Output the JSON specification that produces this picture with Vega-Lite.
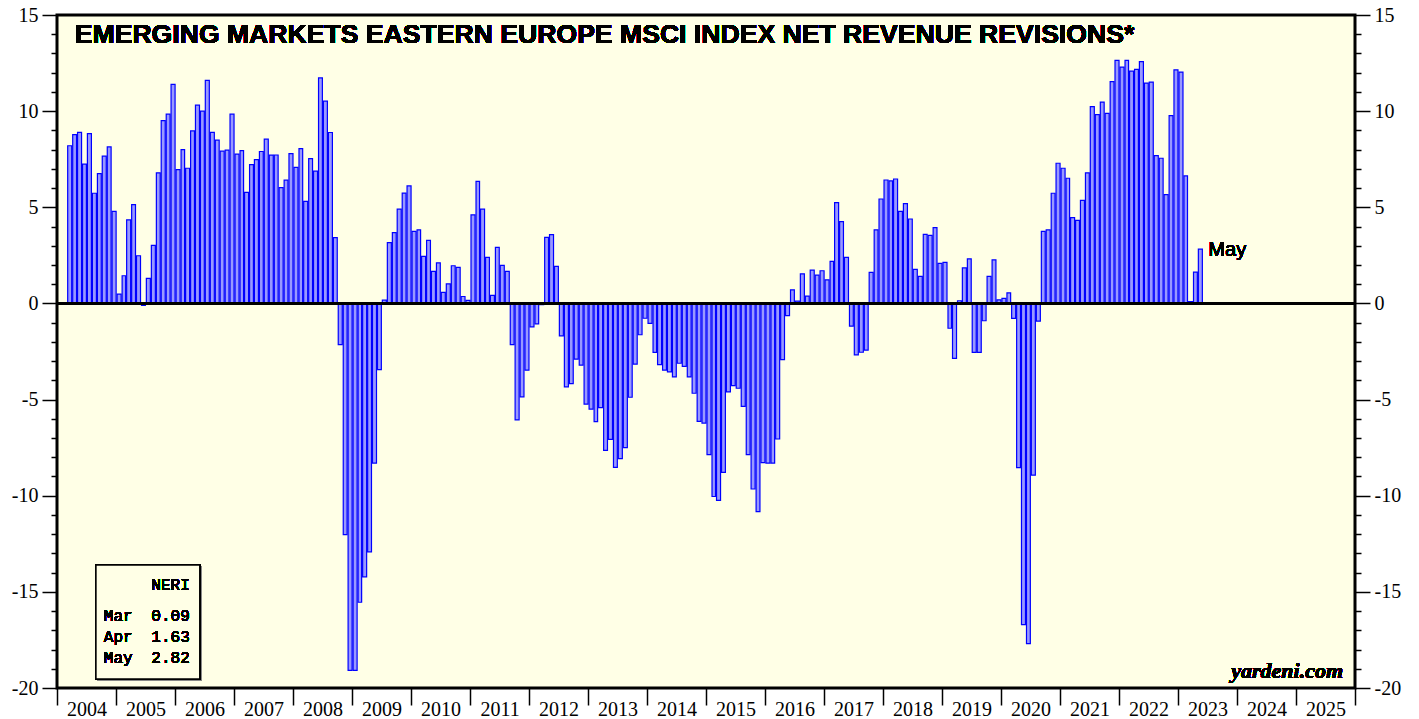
{
  "$schema": "https://vega.github.io/schema/vega-lite/v6.json",
  "width": 1298,
  "height": 673,
  "autosize": {"type": "none"},
  "padding": {"left": 57, "top": 15, "right": 64, "bottom": 31},
  "background": "white",
  "config": {
    "view": {"fill": "#ffffe6", "stroke": "black", "strokeWidth": 3},
    "axis": {"labelFont": "Liberation Serif", "labelFontSize": 20, "labelColor": "black", "tickColor": "black", "tickWidth": 1.5, "grid": false, "domain": false, "title": null},
    "text": {"fillOpacity": 0.99, "fontWeight": "normal"}
  },
  "data": {
    "values": [
      {"d":"2004-03","v":8.2},{"d":"2004-04","v":8.78},{"d":"2004-05","v":8.9},{"d":"2004-06","v":7.24},{"d":"2004-07","v":8.83},{"d":"2004-08","v":5.73},{"d":"2004-09","v":6.75},{"d":"2004-10","v":7.66},{"d":"2004-11","v":8.14},{"d":"2004-12","v":4.79},
      {"d":"2005-01","v":0.48},{"d":"2005-02","v":1.44},{"d":"2005-03","v":4.35},{"d":"2005-04","v":5.14},{"d":"2005-05","v":2.48},{"d":"2005-06","v":-0.1},{"d":"2005-07","v":1.3},{"d":"2005-08","v":3.02},{"d":"2005-09","v":6.79},{"d":"2005-10","v":9.51},{"d":"2005-11","v":9.84},{"d":"2005-12","v":11.39},
      {"d":"2006-01","v":6.96},{"d":"2006-02","v":8.0},{"d":"2006-03","v":7.03},{"d":"2006-04","v":8.97},{"d":"2006-05","v":10.31},{"d":"2006-06","v":10.0},{"d":"2006-07","v":11.6},{"d":"2006-08","v":8.9},{"d":"2006-09","v":8.49},{"d":"2006-10","v":7.92},{"d":"2006-11","v":7.97},{"d":"2006-12","v":9.84},
      {"d":"2007-01","v":7.76},{"d":"2007-02","v":7.95},{"d":"2007-03","v":5.78},{"d":"2007-04","v":7.22},{"d":"2007-05","v":7.48},{"d":"2007-06","v":7.9},{"d":"2007-07","v":8.54},{"d":"2007-08","v":7.71},{"d":"2007-09","v":7.72},{"d":"2007-10","v":6.02},{"d":"2007-11","v":6.41},{"d":"2007-12","v":7.79},
      {"d":"2008-01","v":7.08},{"d":"2008-02","v":8.05},{"d":"2008-03","v":5.31},{"d":"2008-04","v":7.53},{"d":"2008-05","v":6.88},{"d":"2008-06","v":11.73},{"d":"2008-07","v":10.52},{"d":"2008-08","v":8.89},{"d":"2008-09","v":3.42},{"d":"2008-10","v":-2.14},{"d":"2008-11","v":-12.02},{"d":"2008-12","v":-19.08},
      {"d":"2009-01","v":-19.08},{"d":"2009-02","v":-15.54},{"d":"2009-03","v":-14.22},{"d":"2009-04","v":-12.92},{"d":"2009-05","v":-8.3},{"d":"2009-06","v":-3.44},{"d":"2009-07","v":0.17},{"d":"2009-08","v":3.16},{"d":"2009-09","v":3.68},{"d":"2009-10","v":4.9},{"d":"2009-11","v":5.74},{"d":"2009-12","v":6.11},
      {"d":"2010-01","v":3.75},{"d":"2010-02","v":3.83},{"d":"2010-03","v":2.45},{"d":"2010-04","v":3.28},{"d":"2010-05","v":1.67},{"d":"2010-06","v":2.11},{"d":"2010-07","v":0.57},{"d":"2010-08","v":1.02},{"d":"2010-09","v":1.96},{"d":"2010-10","v":1.88},{"d":"2010-11","v":0.36},{"d":"2010-12","v":0.16},
      {"d":"2011-01","v":4.61},{"d":"2011-02","v":6.35},{"d":"2011-03","v":4.9},{"d":"2011-04","v":2.4},{"d":"2011-05","v":0.42},{"d":"2011-06","v":2.92},{"d":"2011-07","v":1.98},{"d":"2011-08","v":1.67},{"d":"2011-09","v":-2.14},{"d":"2011-10","v":-6.06},{"d":"2011-11","v":-4.86},{"d":"2011-12","v":-3.47},
      {"d":"2012-01","v":-1.22},{"d":"2012-02","v":-1.06},{"d":"2012-03","v":-0.07},{"d":"2012-04","v":3.44},{"d":"2012-05","v":3.58},{"d":"2012-06","v":1.93},{"d":"2012-07","v":-1.69},{"d":"2012-08","v":-4.34},{"d":"2012-09","v":-4.17},{"d":"2012-10","v":-2.9},{"d":"2012-11","v":-3.21},{"d":"2012-12","v":-5.24},
      {"d":"2013-01","v":-5.5},{"d":"2013-02","v":-6.15},{"d":"2013-03","v":-5.42},{"d":"2013-04","v":-7.64},{"d":"2013-05","v":-7.07},{"d":"2013-06","v":-8.53},{"d":"2013-07","v":-8.07},{"d":"2013-08","v":-7.5},{"d":"2013-09","v":-4.88},{"d":"2013-10","v":-3.16},{"d":"2013-11","v":-1.63},{"d":"2013-12","v":-0.77},
      {"d":"2014-01","v":-1.04},{"d":"2014-02","v":-2.55},{"d":"2014-03","v":-3.18},{"d":"2014-04","v":-3.47},{"d":"2014-05","v":-3.56},{"d":"2014-06","v":-3.82},{"d":"2014-07","v":-3.11},{"d":"2014-08","v":-3.27},{"d":"2014-09","v":-3.82},{"d":"2014-10","v":-4.67},{"d":"2014-11","v":-6.13},{"d":"2014-12","v":-6.22},
      {"d":"2015-01","v":-7.86},{"d":"2015-02","v":-10.04},{"d":"2015-03","v":-10.24},{"d":"2015-04","v":-8.79},{"d":"2015-05","v":-4.6},{"d":"2015-06","v":-4.27},{"d":"2015-07","v":-4.41},{"d":"2015-08","v":-5.35},{"d":"2015-09","v":-7.86},{"d":"2015-10","v":-9.65},{"d":"2015-11","v":-10.83},{"d":"2015-12","v":-8.28},
      {"d":"2016-01","v":-8.3},{"d":"2016-02","v":-8.3},{"d":"2016-03","v":-7.05},{"d":"2016-04","v":-2.92},{"d":"2016-05","v":-0.63},{"d":"2016-06","v":0.71},{"d":"2016-07","v":0.12},{"d":"2016-08","v":1.54},{"d":"2016-09","v":0.38},{"d":"2016-10","v":1.73},{"d":"2016-11","v":1.47},{"d":"2016-12","v":1.7},
      {"d":"2017-01","v":1.23},{"d":"2017-02","v":2.19},{"d":"2017-03","v":5.24},{"d":"2017-04","v":4.25},{"d":"2017-05","v":2.4},{"d":"2017-06","v":-1.18},{"d":"2017-07","v":-2.68},{"d":"2017-08","v":-2.54},{"d":"2017-09","v":-2.43},{"d":"2017-10","v":1.61},{"d":"2017-11","v":3.83},{"d":"2017-12","v":5.43},
      {"d":"2018-01","v":6.42},{"d":"2018-02","v":6.37},{"d":"2018-03","v":6.47},{"d":"2018-04","v":4.79},{"d":"2018-05","v":5.19},{"d":"2018-06","v":4.39},{"d":"2018-07","v":1.77},{"d":"2018-08","v":1.41},{"d":"2018-09","v":3.59},{"d":"2018-10","v":3.54},{"d":"2018-11","v":3.94},{"d":"2018-12","v":2.08},
      {"d":"2019-01","v":2.13},{"d":"2019-02","v":-1.29},{"d":"2019-03","v":-2.86},{"d":"2019-04","v":0.14},{"d":"2019-05","v":1.85},{"d":"2019-06","v":2.32},{"d":"2019-07","v":-2.55},{"d":"2019-08","v":-2.55},{"d":"2019-09","v":-0.9},{"d":"2019-10","v":1.41},{"d":"2019-11","v":2.27},{"d":"2019-12","v":0.19},
      {"d":"2020-01","v":0.26},{"d":"2020-02","v":0.55},{"d":"2020-03","v":-0.78},{"d":"2020-04","v":-8.54},{"d":"2020-05","v":-16.7},{"d":"2020-06","v":-17.69},{"d":"2020-07","v":-8.93},{"d":"2020-08","v":-0.92},{"d":"2020-09","v":3.75},{"d":"2020-10","v":3.83},{"d":"2020-11","v":5.73},{"d":"2020-12","v":7.29},
      {"d":"2021-01","v":7.03},{"d":"2021-02","v":6.51},{"d":"2021-03","v":4.46},{"d":"2021-04","v":4.32},{"d":"2021-05","v":5.36},{"d":"2021-06","v":6.79},{"d":"2021-07","v":10.24},{"d":"2021-08","v":9.82},{"d":"2021-09","v":10.47},{"d":"2021-10","v":9.88},{"d":"2021-11","v":11.54},{"d":"2021-12","v":12.64},
      {"d":"2022-01","v":12.29},{"d":"2022-02","v":12.64},{"d":"2022-03","v":12.08},{"d":"2022-04","v":12.17},{"d":"2022-05","v":12.58},{"d":"2022-06","v":11.46},{"d":"2022-07","v":11.51},{"d":"2022-08","v":7.69},{"d":"2022-09","v":7.55},{"d":"2022-10","v":5.66},{"d":"2022-11","v":9.77},{"d":"2022-12","v":12.15},
      {"d":"2023-01","v":12.03},{"d":"2023-02","v":6.63},{"d":"2023-03","v":0.09},{"d":"2023-04","v":1.63},{"d":"2023-05","v":2.82}
    ],
    "format": {"parse": {"d": "utc:'%Y-%m'"}}
  },
  "resolve": {"axis": {"y": "independent"}},
  "layer": [
    {
      "mark": {"type": "bar", "fill": "#9999ff", "stroke": "#0000ff", "strokeWidth": 1.2},
      "encoding": {
        "x": {
          "field": "d", "type": "temporal", "timeUnit": "utcyearmonth",
          "scale": {"type": "utc", "domain": [{"year": 2004, "month": 1, "date": 1, "utc": true}, {"year": 2026, "month": 1, "date": 1, "utc": true}]},
          "axis": {
            "values": [
              {"year":2004,"month":1,"date":1,"utc":true},{"year":2005,"month":1,"date":1,"utc":true},{"year":2006,"month":1,"date":1,"utc":true},{"year":2007,"month":1,"date":1,"utc":true},{"year":2008,"month":1,"date":1,"utc":true},{"year":2009,"month":1,"date":1,"utc":true},{"year":2010,"month":1,"date":1,"utc":true},{"year":2011,"month":1,"date":1,"utc":true},{"year":2012,"month":1,"date":1,"utc":true},{"year":2013,"month":1,"date":1,"utc":true},{"year":2014,"month":1,"date":1,"utc":true},{"year":2015,"month":1,"date":1,"utc":true},{"year":2016,"month":1,"date":1,"utc":true},{"year":2017,"month":1,"date":1,"utc":true},{"year":2018,"month":1,"date":1,"utc":true},{"year":2019,"month":1,"date":1,"utc":true},{"year":2020,"month":1,"date":1,"utc":true},{"year":2021,"month":1,"date":1,"utc":true},{"year":2022,"month":1,"date":1,"utc":true},{"year":2023,"month":1,"date":1,"utc":true},{"year":2024,"month":1,"date":1,"utc":true},{"year":2025,"month":1,"date":1,"utc":true},{"year":2026,"month":1,"date":1,"utc":true}
            ],
            "labelExpr": "utcyear(datum.value) > 2025 ? '' : utcFormat(datum.value, '%Y')",
            "tickSize": 17, "labelPadding": -6, "labelOffset": 29.5, "labelAlign": "center", "labelBaseline": "top",
            "labelOverlap": false, "labelBound": false, "labelFlush": false
          }
        },
        "y": {
          "field": "v", "type": "quantitative",
          "scale": {"domain": [-20, 15], "nice": false, "zero": false},
          "axis": {
            "orient": "left",
            "values": [-20,-19,-18,-17,-16,-15,-14,-13,-12,-11,-10,-9,-8,-7,-6,-5,-4,-3,-2,-1,0,1,2,3,4,5,6,7,8,9,10,11,12,13,14,15],
            "labelExpr": "datum.value % 5 == 0 ? '' + datum.value : ''",
            "tickSize": {"condition": {"test": "datum.value % 5 == 0", "value": 15}, "value": 6},
            "labelPadding": 4, "labelOverlap": false, "labelBound": false, "labelFlush": false, "labelBaseline": "middle"
          }
        }
      }
    },
    {
      "mark": {"type": "rule", "color": "black", "strokeWidth": 1.5},
      "encoding": {
        "y": {
          "datum": 0, "type": "quantitative",
          "axis": {
            "orient": "right",
            "values": [-20,-19,-18,-17,-16,-15,-14,-13,-12,-11,-10,-9,-8,-7,-6,-5,-4,-3,-2,-1,0,1,2,3,4,5,6,7,8,9,10,11,12,13,14,15],
            "labelExpr": "datum.value % 5 == 0 ? '' + datum.value : ''",
            "tickSize": {"condition": {"test": "datum.value % 5 == 0", "value": 15}, "value": 6},
            "labelPadding": 4, "labelOverlap": false, "labelBound": false, "labelFlush": false, "labelBaseline": "middle"
          }
        }
      }
    },
    {
      "mark": {"type": "text", "text": "EMERGING MARKETS EASTERN EUROPE MSCI INDEX NET REVENUE REVISIONS*", "font": "Liberation Sans", "fontWeight": "bold", "fontSize": 26.6, "align": "left", "baseline": "middle", "fill": "black"},
      "encoding": {
        "x": {"datum": {"year": 2004, "month": 4, "date": 20, "utc": true}, "type": "temporal"},
        "y": {"datum": 13.96, "type": "quantitative", "axis": null}
      }
    },
    {
      "mark": {"type": "text", "text": "May", "font": "Liberation Sans", "fontSize": 20, "align": "left", "baseline": "middle", "dx": 6, "fill": "black"},
      "encoding": {
        "x": {"datum": {"year": 2023, "month": 6, "date": 1, "utc": true}, "type": "temporal"},
        "y": {"datum": 2.76, "type": "quantitative", "axis": null}
      }
    },
    {
      "mark": {"type": "text", "text": "yardeni.com", "font": "Liberation Serif", "fontWeight": "bold", "fontStyle": "italic", "fontSize": 22, "align": "right", "baseline": "middle", "fill": "black"},
      "encoding": {
        "x": {"datum": {"year": 2025, "month": 10, "date": 19, "utc": true}, "type": "temporal"},
        "y": {"datum": -19.12, "type": "quantitative", "axis": null}
      }
    },
    {
      "mark": {"type": "rect", "fill": "#888888"},
      "encoding": {
        "x": {"datum": {"year": 2004, "month": 9, "date": 10, "utc": true}, "type": "temporal"},
        "x2": {"datum": {"year": 2006, "month": 6, "date": 15, "utc": true}},
        "y": {"datum": -13.7, "type": "quantitative", "axis": null},
        "y2": {"datum": -19.63}
      }
    },
    {
      "mark": {"type": "rect", "fill": "#ffffe6", "stroke": "black", "strokeWidth": 1.5},
      "encoding": {
        "x": {"datum": {"year": 2004, "month": 8, "date": 29, "utc": true}, "type": "temporal"},
        "x2": {"datum": {"year": 2006, "month": 6, "date": 3, "utc": true}},
        "y": {"datum": -13.6, "type": "quantitative", "axis": null},
        "y2": {"datum": -19.53}
      }
    },
    {
      "mark": {"type": "text", "text": "NERI", "font": "Liberation Mono", "fontSize": 16, "align": "right", "baseline": "middle", "fill": "black"},
      "encoding": {
        "x": {"datum": {"year": 2006, "month": 4, "date": 2, "utc": true}, "type": "temporal"},
        "y": {"datum": -14.64, "type": "quantitative", "axis": null}
      }
    },
    {
      "mark": {"type": "text", "text": ["Mar", "Apr", "May"], "lineHeight": 21, "font": "Liberation Mono", "fontSize": 16, "align": "left", "baseline": "middle", "fill": "black"},
      "encoding": {
        "x": {"datum": {"year": 2004, "month": 10, "date": 17, "utc": true}, "type": "temporal"},
        "y": {"datum": -16.25, "type": "quantitative", "axis": null}
      }
    },
    {
      "mark": {"type": "text", "text": ["0.09", "1.63", "2.82"], "lineHeight": 21, "font": "Liberation Mono", "fontSize": 16, "align": "right", "baseline": "middle", "fill": "black"},
      "encoding": {
        "x": {"datum": {"year": 2006, "month": 4, "date": 2, "utc": true}, "type": "temporal"},
        "y": {"datum": -16.25, "type": "quantitative", "axis": null}
      }
    }
  ]
}
